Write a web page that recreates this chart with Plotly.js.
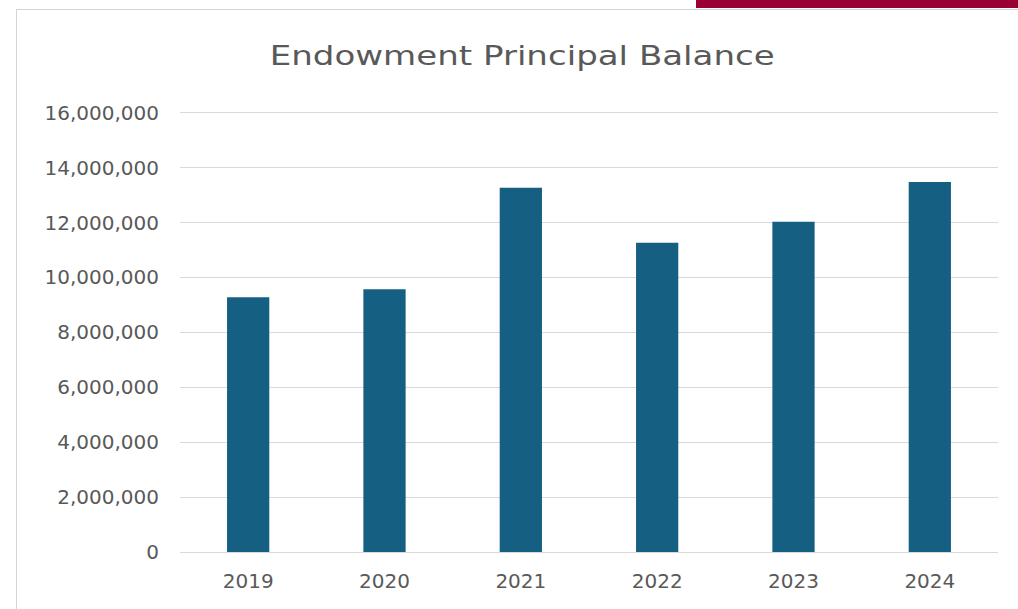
<!DOCTYPE html>
<html>
<head>
<meta charset="utf-8">
<script src="https://cdn.plot.ly/plotly-3.0.1.min.js"></script>
<style>
  html, body { margin: 0; padding: 0; background: #ffffff; width: 1018px; height: 609px; overflow: hidden; }
  #frame { position: absolute; left: 16px; top: 9px; width: 1010px; height: 610px;
           border-left: 1px solid #d4d4d4; border-top: 1px solid #d4d4d4; box-sizing: border-box; }
  #band { position: absolute; left: 696px; top: 0px; width: 322px; height: 8px; background: #9a0032; }
  #chart { position: absolute; left: 0; top: 0; width: 1018px; height: 609px; }
</style>
</head>
<body>
<div id="frame"></div>
<div id="band"></div>
<div id="chart"></div>
<script>
const years = ['2019', '2020', '2021', '2022', '2023', '2024'];
const balances = [9280000, 9570000, 13270000, 11260000, 12030000, 13480000];
const yTickValues = [0, 2000000, 4000000, 6000000, 8000000, 10000000, 12000000, 14000000, 16000000];
const chartTitle = 'Endowment Principal Balance';

const trace = {
  type: 'bar',
  x: years,
  y: balances,
  marker: { color: '#156082' },
  hoverinfo: 'x+y'
};

const layout = {
  width: 1018,
  height: 609,
  margin: { l: 180, r: 20, t: 110, b: 57 },
  paper_bgcolor: 'rgba(0,0,0,0)',
  plot_bgcolor: 'rgba(0,0,0,0)',
  bargap: 0.69,
  showlegend: false,
  font: { family: 'DejaVu Sans', color: '#595959' },
  title: {
    text: chartTitle,
    font: { family: 'DejaVu Sans', size: 26, color: '#595959' },
    xref: 'container', yref: 'container',
    x: 0.513, xanchor: 'center',
    y: 0.908, yanchor: 'middle'
  },
  xaxis: {
    type: 'category',
    showgrid: false,
    showline: false,
    zeroline: false,
    ticks: '',
    ticklabelstandoff: 15,
    tickfont: { family: 'DejaVu Sans', size: 20, color: '#595959' }
  },
  yaxis: {
    range: [0, 16100000],
    tickvals: yTickValues,
    tickformat: ',d',
    showgrid: true,
    gridcolor: '#d9d9d9',
    gridwidth: 1,
    zeroline: true,
    zerolinecolor: '#d9d9d9',
    zerolinewidth: 1,
    showline: false,
    ticks: '',
    ticklabelstandoff: 20,
    tickfont: { family: 'DejaVu Sans', size: 20, color: '#595959' }
  }
};

Plotly.newPlot('chart', [trace], layout, { displayModeBar: false, staticPlot: true }).then(function () {
  const t = document.querySelector('#chart .gtitle');
  if (t) {
    t.setAttribute('textLength', '505');
    t.setAttribute('lengthAdjust', 'spacingAndGlyphs');
  }
});
</script>
</body>
</html>
